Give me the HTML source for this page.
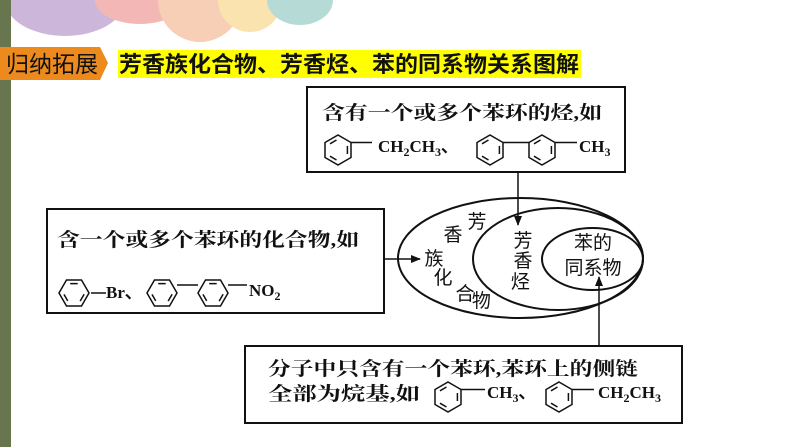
<!DOCTYPE html>
<html><head><meta charset="utf-8"><style>
html,body{margin:0;padding:0;background:#fff;}
body{width:794px;height:447px;position:relative;overflow:hidden;}
svg{position:absolute;left:0;top:0;}
.t{font-family:"Liberation Serif","Noto Serif CJK SC",serif;font-weight:bold;font-size:19px;fill:#111;}
.f{font-family:"Liberation Serif",serif;font-weight:bold;font-size:17px;fill:#111;}
.h{font-family:"Liberation Sans","Noto Sans CJK SC",sans-serif;font-weight:bold;font-size:22px;fill:#111;}
.e{font-family:"Liberation Sans","Noto Sans CJK SC",sans-serif;font-size:19px;fill:#111;}
</style></head><body>
<svg width="794" height="447" viewBox="0 0 794 447">
<defs>
<g id="bz" fill="none" stroke="#111" stroke-width="1.5">
<polygon points="0,-15 13,-7.5 13,7.5 0,15 -13,7.5 -13,-7.5"/>
<line x1="-8" y1="-6.2" x2="-1.5" y2="-10"/>
<line x1="9.4" y1="-4" x2="9.4" y2="4"/>
<line x1="-8" y1="6.2" x2="-1.5" y2="10"/>
</g>
<marker id="ar" markerWidth="10" markerHeight="8" refX="9" refY="4" orient="auto" markerUnits="userSpaceOnUse"><path d="M0,0 L10,4 L0,8 z" fill="#111"/></marker>
</defs>
<!-- decoration -->
<g opacity="0.5">
<ellipse cx="65" cy="0" rx="60" ry="36" fill="#9b72b8"/>
<ellipse cx="140" cy="0" rx="45" ry="24" fill="#e8736f"/>
<ellipse cx="200" cy="0" rx="42" ry="42" fill="#f0a070"/>
<ellipse cx="250" cy="0" rx="32" ry="32" fill="#f6c860"/>
<ellipse cx="300" cy="0" rx="33" ry="25" fill="#6fb8b0"/>
</g>
<rect x="0" y="0" width="11" height="447" fill="#687650"/>
<!-- header -->
<polygon points="0,47 100,47 108,63 100,80 0,80" fill="#ec8a1e"/>
<text x="6" y="72" class="e" style="font-size:23px">归纳拓展</text>
<rect x="118" y="50" width="463" height="28" fill="#ffff00"/>
<text x="119" y="72" class="h" textLength="460" lengthAdjust="spacingAndGlyphs">芳香族化合物、芳香烃、苯的同系物关系图解</text>
<!-- top box -->
<rect x="307" y="87" width="318" height="85" fill="none" stroke="#111" stroke-width="2"/>
<text x="322" y="119" class="t" textLength="280" lengthAdjust="spacingAndGlyphs">含有一个或多个苯环的烃,如</text>
<use href="#bz" x="338" y="150"/>
<line x1="351" y1="142.5" x2="372" y2="142.5" stroke="#111" stroke-width="1.5"/>
<text x="378" y="152" class="f">CH<tspan font-size="12" dy="4">2</tspan><tspan dy="-4">CH</tspan><tspan font-size="12" dy="4">3</tspan><tspan dy="-4">、</tspan></text>
<use href="#bz" x="490" y="150"/>
<line x1="503" y1="142.5" x2="529" y2="142.5" stroke="#111" stroke-width="1.5"/>
<use href="#bz" x="542" y="150"/>
<line x1="555" y1="142.5" x2="577" y2="142.5" stroke="#111" stroke-width="1.5"/>
<text x="579" y="152" class="f">CH<tspan font-size="12" dy="4">3</tspan></text>
<line x1="518" y1="172" x2="518" y2="225" stroke="#111" stroke-width="1.5" marker-end="url(#ar)"/>
<!-- left box -->
<rect x="47" y="209" width="337" height="104" fill="none" stroke="#111" stroke-width="2"/>
<text x="57" y="246" class="t" textLength="302" lengthAdjust="spacingAndGlyphs">含一个或多个苯环的化合物,如</text>
<use href="#bz" x="74" y="293" transform="rotate(30 74 293)"/>
<line x1="91" y1="293" x2="106" y2="293" stroke="#111" stroke-width="1.5"/>
<text x="106" y="298" class="f">Br、</text>
<use href="#bz" x="162" y="293" transform="rotate(30 162 293)"/>
<line x1="177" y1="285" x2="198" y2="285" stroke="#111" stroke-width="1.5"/>
<use href="#bz" x="213" y="293" transform="rotate(30 213 293)"/>
<line x1="228" y1="285" x2="247" y2="285" stroke="#111" stroke-width="1.5"/>
<text x="249" y="296" class="f">NO<tspan font-size="12" dy="4">2</tspan></text>
<line x1="384" y1="259" x2="420" y2="259" stroke="#111" stroke-width="1.5" marker-end="url(#ar)"/>
<!-- ellipses -->
<g fill="none" stroke="#111" stroke-width="2">
<ellipse cx="520.5" cy="258" rx="122.5" ry="60"/>
<ellipse cx="558" cy="259" rx="85" ry="51"/>
<ellipse cx="592.5" cy="259" rx="50.5" ry="31"/>
</g>
<text class="e" text-anchor="middle">
<tspan x="477" y="228">芳</tspan><tspan x="453" y="241">香</tspan><tspan x="434" y="265">族</tspan><tspan x="443" y="284">化</tspan><tspan x="465" y="300">合</tspan><tspan x="484" y="307">物</tspan>
<tspan x="523" y="247">芳</tspan><tspan x="523" y="267">香</tspan><tspan x="523" y="288">烃</tspan>
<tspan x="593" y="249">苯的</tspan><tspan x="593" y="274">同系物</tspan>
</text>
<!-- bottom box -->
<rect x="245" y="346" width="437" height="77" fill="none" stroke="#111" stroke-width="2"/>
<line x1="599" y1="346" x2="599" y2="277" stroke="#111" stroke-width="1.5" marker-end="url(#ar)"/>
<text x="268" y="375" class="t" textLength="370" lengthAdjust="spacingAndGlyphs">分子中只含有一个苯环,苯环上的侧链</text>
<text x="268" y="400" class="t" textLength="152" lengthAdjust="spacingAndGlyphs">全部为烷基,如</text>
<use href="#bz" x="448" y="397"/>
<line x1="461" y1="389.5" x2="485" y2="389.5" stroke="#111" stroke-width="1.5"/>
<text x="487" y="398" class="f">CH<tspan font-size="12" dy="4">3</tspan><tspan dy="-4">、</tspan></text>
<use href="#bz" x="559" y="397"/>
<line x1="572" y1="389.5" x2="594" y2="389.5" stroke="#111" stroke-width="1.5"/>
<text x="598" y="398" class="f">CH<tspan font-size="12" dy="4">2</tspan><tspan dy="-4">CH</tspan><tspan font-size="12" dy="4">3</tspan></text>
</svg>
</body></html>
